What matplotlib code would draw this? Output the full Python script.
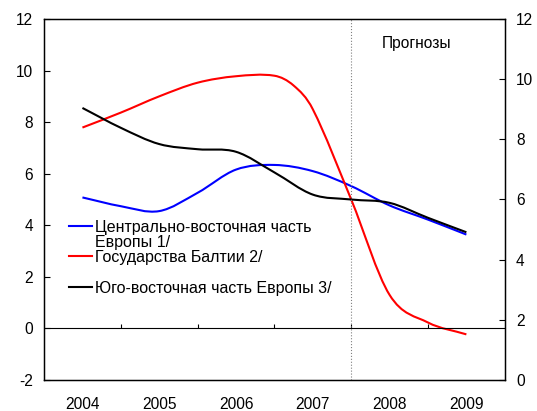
import matplotlib
matplotlib.use("Agg")
import matplotlib.pyplot as plt
from matplotlib.path import Path
from matplotlib.patches import PathPatch

plt.rcParams['font.family'] = ['Liberation Sans', 'DejaVu Sans']
plt.rcParams['axes.unicode_minus'] = False

# half-year points
t = [2004.0, 2004.5, 2005.0, 2005.5, 2006.0, 2006.5, 2007.0, 2007.5, 2008.0, 2008.5, 2009.0]
cee = [5.08, 4.74, 4.55, 5.26, 6.16, 6.34, 6.10, 5.52, 4.77, 4.22, 3.64]
see = [8.55, 7.78, 7.15, 6.95, 6.85, 6.05, 5.19, 5.00, 4.87, 4.29, 3.73]
# Baltic series has an extra reading where it turns sharply
t_baltic = [2004.0, 2004.5, 2005.0, 2005.5, 2006.0, 2006.5, 2006.75, 2007.0, 2007.5,
            2008.0, 2008.5, 2009.0]
baltic = [7.79, 8.37, 9.00, 9.53, 9.78, 9.80, 9.42, 8.50, 5.00, 1.30, 0.23, -0.23]

years = [2004, 2005, 2006, 2007, 2008, 2009]
boundaries = [2004.5, 2005.5, 2006.5, 2007.5, 2008.5]

labels = ["Центрально-восточная часть\nЕвропы 1/",
          "Государства Балтии 2/",
          "Юго-восточная часть Европы 3/"]
colors = ["#0000ff", "#ff0000", "#000000"]


def smooth_path(x, y):
    # smoothed line like Excel's: cubic Hermite pieces written as Bezier curves
    n = len(x)
    m = []
    for i in range(n):
        a = max(i - 1, 0)
        b = min(i + 1, n - 1)
        m.append((y[b] - y[a]) / (x[b] - x[a]))
    verts = [(x[0], y[0])]
    codes = [Path.MOVETO]
    for i in range(n - 1):
        h = (x[i + 1] - x[i]) / 3
        verts += [(x[i] + h, y[i] + m[i] * h),
                  (x[i + 1] - h, y[i + 1] - m[i + 1] * h),
                  (x[i + 1], y[i + 1])]
        codes += [Path.CURVE4] * 3
    return Path(verts, codes)


fig = plt.figure(figsize=(5.37, 4.11), dpi=100)
ax = fig.add_axes([0.082, 0.0754, 0.858, 0.8784])

for xs, ys, c in zip([t, t_baltic, t], [cee, baltic, see], colors):
    ax.add_patch(PathPatch(smooth_path(xs, ys), facecolor='none', edgecolor=c, lw=1.5))

ax.set_xlim(2003.5, 2009.5)
ax.set_ylim(-2, 12)
ax.set_yticks(range(-2, 13, 2))
ax.tick_params(axis='y', direction='in', length=4, labelsize=11.2, pad=8)
ax.set_xticks(years)
ax.tick_params(axis='x', length=0, labelsize=11.2, pad=12)

ax.axhline(0, color='black', lw=0.8)
ax.vlines(boundaries, 0, 0.18, color='black', lw=0.8)
ax.axvline(2007.5, color='gray', lw=0.8, ls=':')
ax.text(2008.35, 11.05, "Прогнозы", ha='center', va='center', fontsize=11.2)

for s in ax.spines.values():
    s.set_linewidth(1.0)

ax2 = ax.twinx()
ax2.set_ylim(0, 12)
ax2.set_yticks(range(0, 13, 2))
ax2.tick_params(axis='y', direction='in', length=4, labelsize=11.2, pad=8)

# legend drawn by hand to match the uneven spacing
leg_y = [3.99, 2.79, 1.59]
text_y = [3.62, 2.75, 1.55]
for ly, tyy, lab, c in zip(leg_y, text_y, labels, colors):
    ax.plot([2003.83, 2004.13], [ly, ly], color=c, lw=1.5)
    ax.text(2004.16, tyy, lab, ha='left', va='center', fontsize=11.5, linespacing=0.95)

fig.savefig("out.png", dpi=100)
